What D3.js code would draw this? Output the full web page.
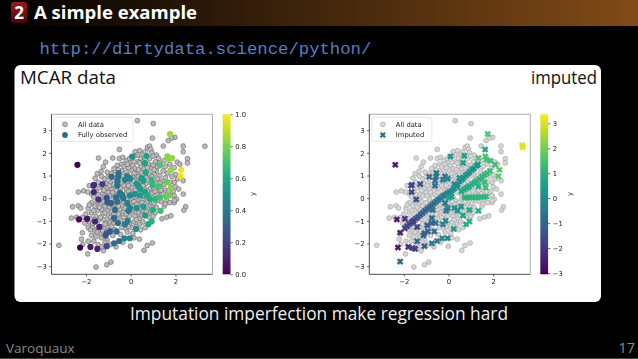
<!DOCTYPE html>
<html>
<head>
<meta charset="utf-8">
<script src="https://cdn.jsdelivr.net/npm/d3@7"></script>
<style>
  html, body { margin: 0; padding: 0; background: #000; overflow: hidden; }
  svg { display: block; }
</style>
</head>
<body>
<script>
// All points, grey in both panels [x, y]
var allPoints = [
  [0.3,3.42],[1.01,3.29],[0.97,2.65],[1.98,2.68],[1.83,2.65],[1.68,2.54],[3.32,2.29],[2.35,2.3],[2.35,2.05],[1.46,2.3],
  [-0.5,2.15],[2.54,1.74],[2.54,1.55],[2.08,1.59],[2.2,1.5],[-1.44,1.77],[-0.8,1.77],[-1.12,1.59],[-1.22,1.39],[-1.32,1.18],
  [-1.49,1.08],[-1.59,0.88],[2.35,0.77],[-2.34,0.27],[-2.1,0.32],[-1.92,0.27],[-1.74,0.18],[2.35,0.18],[-2.6,-0.38],[-2.34,-0.34],
  [-2.23,-0.44],[2.46,-0.38],[2.38,-0.53],[-2.65,-0.88],[-2.41,-0.84],[-3.21,-2.08],[-2.16,-1.53],[-2.2,-1.81],[-2.14,-2.04],[-1.92,-2.46],
  [-1.55,-3.04],[-1.07,-2.94],[-0.88,-2.82],[-1.22,-2.32],[-0.01,-2.12],[0.39,-1.81],[0.6,-2.3],[0.74,-2.09],[0.97,-1.98],[1.4,-0.91],
  [1.62,-0.84],[1.8,-0.78],
  [0.2,2.05],[0.4,2.1],[0.55,1.95],[0.75,2.25],[0.85,2.3],[0.9,2.15],[0.95,2.0],[0.65,2.05],[0.3,1.9],[1.15,1.9],[1.25,1.75],
  [-0.5,1.75],[-0.35,1.8],[0,1.6],[0.15,1.85],[0.45,1.75],[0.55,1.6],[0.85,1.75],[1.0,1.85],[1.1,1.6],[1.3,1.55],[1.5,1.65],
  [-0.2,1.65],[-0.4,1.5],[-0.6,1.45],[-0.05,1.75],[0.3,1.6],[0.8,1.5],[1.0,1.45],[1.2,1.4],[1.55,1.4],[1.75,1.5],[1.95,1.35],
  [-0.75,1.3],[-0.3,1.4],[-0.1,1.35],[0.1,1.45],[0.2,1.3],[0.45,1.4],[0.6,1.3],[0.9,1.3],[1.15,1.2],[1.45,1.2],[1.65,1.1],[2.0,1.05],
  [-1.05,1.15],[-0.85,1.1],[-0.4,1.2],[-0.2,1.15],[0.05,1.2],[0.3,1.1],[0.45,1.15],[0.85,1.05],[1.05,1.05],[1.3,1.0],[1.55,0.9],[1.85,0.95],[2.1,0.85],
  [-1.3,0.95],[-1.15,0.85],[-1.0,0.95],[-0.7,0.9],[-0.35,0.95],[0.1,0.95],[0.25,0.85],[0.7,0.9],[0.95,0.95],[1.2,0.85],[1.4,0.75],[1.75,0.7],[1.95,0.7],
  [-1.45,0.7],[-1.1,0.65],[-0.9,0.7],[-0.75,0.6],[-0.4,0.7],[-0.15,0.7],[0.05,0.65],[0.45,0.7],[0.7,0.65],[1.15,0.65],[1.35,0.55],[1.5,0.6],[2.0,0.5],[2.15,0.4],
  [-1.85,0.55],[-1.4,0.45],[-1.05,0.45],[-0.85,0.4],[-0.65,0.35],[-0.45,0.45],[-0.2,0.4],[0.05,0.45],[0.2,0.35],[0.6,0.45],[0.85,0.4],[1.05,0.4],[1.25,0.3],[1.55,0.35],[1.9,0.3],
  [-1.55,0.3],[-1.25,0.2],[-1.0,0.25],[-0.75,0.15],[-0.55,0.1],[-0.2,0.2],[0.1,0.2],[0.4,0.25],[0.6,0.1],[0.95,0.2],[1.2,0.15],[1.45,0.2],[1.95,0.1],[2.05,-0.05],
  [-1.65,0.05],[-1.3,-0.05],[-1.15,0.1],[-0.85,-0.05],[-0.5,-0.1],[-0.2,-0.05],[0.05,-0.05],[0.3,-0.1],[0.55,-0.1],[0.85,-0.2],[1.05,-0.25],[1.35,-0.15],[1.6,-0.1],[1.95,-0.2],[1.95,-0.1],
  [-1.75,-0.2],[-1.6,-0.35],[-1.35,-0.25],[-1.15,-0.35],[-0.95,-0.4],[-0.65,-0.3],[-0.4,-0.3],[-0.1,-0.35],[0.1,-0.3],[0.4,-0.25],[0.7,-0.4],[1.15,-0.4],[1.5,-0.35],[1.55,-0.25],
  [-1.9,-0.45],[-1.85,-0.3],[-1.5,-0.55],[-1.3,-0.5],[-1.05,-0.55],[-0.85,-0.6],[-0.5,-0.5],[-0.3,-0.6],[0.1,-0.6],[0.35,-0.65],[0.55,-0.55],[0.85,-0.6],[1.1,-0.65],
  [-2.0,-0.7],[-1.75,-0.65],[-1.55,-0.8],[-1.25,-0.7],[-1.0,-0.8],[-0.75,-0.7],[-0.5,-0.75],[-0.3,-0.85],[-0.05,-0.8],[0.2,-0.8],[0.4,-0.9],[0.85,-0.85],[1.0,-0.8],
  [-2.15,-0.85],[-1.85,-1.05],[-1.7,-1.15],[-1.45,-1.0],[-1.2,-0.95],[-0.95,-1.05],[-0.75,-1.1],[-0.45,-1.0],[-0.05,-1.1],[0.15,-1.05],[0.4,-1.15],[0.55,-1.05],
  [-2.05,-1.1],[-1.7,-1.3],[-1.6,-1.45],[-1.3,-1.25],[-1.05,-1.3],[-0.85,-1.25],[-0.4,-1.3],[-0.2,-1.35],[0.05,-1.3],[0.45,-1.4],[0.65,-1.3],
  [-1.9,-1.3],[-1.75,-1.65],[-1.55,-1.7],[-1.35,-1.55],[-1.3,-1.75],[-0.8,-1.65],[-0.45,-1.6],[-0.15,-1.5],[0.1,-1.55],[-1.05,-1.85],[-1.65,-1.9],[-1.45,-2.05],[-0.65,-2.15],
  [-1.9,-1.9],[-0.9,-2.05],[-1.3,-2.15],[-0.35,-1.95],[0.15,-1.75],[-1.05,-1.45],[-0.65,-0.95],[0.65,-0.75],[0.3,0.55],[-0.05,0.9],[0.5,0.9],[-0.55,0.75],
  // denser core
  [-0.95,0.55],[-0.8,0.25],[-0.6,0.6],[-0.3,0.55],[-0.1,0.55],[0.15,0.75],[0.35,0.95],[0.55,0.55],[0.75,0.3],[0.95,0.05],[1.1,0.3],[1.3,0.65],
  [-1.2,0.35],[-1.45,0.15],[-1.5,-0.15],[-1.2,-0.15],[-1.0,-0.2],[-0.7,-0.15],[-0.35,0.1],[-0.1,0.3],[0.2,0.05],[0.5,-0.2],[0.75,-0.15],[1.2,-0.1],
  [-1.65,-0.55],[-1.4,-0.4],[-1.15,-0.65],[-0.9,-0.85],[-0.55,-0.35],[-0.25,-0.45],[0.0,-0.2],[0.25,-0.25],[0.45,-0.45],[0.7,-0.6],[0.95,-0.4],
  [-1.8,-0.9],[-1.6,-0.95],[-1.35,-0.85],[-1.1,-1.1],[-0.8,-0.95],[-0.55,-0.7],[-0.2,-0.7],[0.05,-0.5],[0.25,-0.95],[0.5,-0.75],
  [-1.8,-1.4],[-1.45,-1.3],[-1.25,-1.45],[-1.15,-1.15],[-0.7,-1.4],[-0.3,-1.15],[-0.1,-1.25],[0.25,-1.25],[-1.5,-1.5],[-1.15,-1.95],
  [-0.7,1.05],[-0.55,1.25],[-0.15,1.0],[0.15,1.1],[0.35,1.25],[0.65,1.1],[0.75,1.35],[1.05,1.25],[0.15,1.6],[0.65,1.75],[-0.15,1.5],[0.4,1.55],
  [-0.25,-0.2],[-0.8,-0.3],[0.15,-0.15],[0.9,0.7],[0.7,0.1],[0.3,0.7],[-0.45,0.25],[-0.95,0.1],[-1.3,0.55],[1.7,0.3],[1.75,-0.2],[1.35,0.35]
];

// Left panel observed points [x, y, colour value]
var observedPoints = [
  [-2.38,1.47,0.0],[1.76,2.83,0.85],[0.07,1.83,0.5],[0.71,1.86,0.58],[1.64,1.84,0.82],[1.68,1.74,0.83],[1.85,1.77,0.83],[0.64,1.55,0.58],
  [1.31,1.45,0.72],[1.79,1.24,0.83],[2.26,1.25,0.97],[2.23,0.97,0.97],[0.68,1.14,0.6],[-0.54,1.11,0.38],[-0.86,0.94,0.33],[-0.55,0.96,0.38],
  [-0.15,0.96,0.42],[-1.64,0.59,0.12],[-1.66,0.55,0.12],[-1.26,0.62,0.18],[-0.6,0.77,0.38],[-0.6,0.55,0.38],[-0.25,0.81,0.42],[-0.03,0.86,0.45],
  [0.27,0.62,0.52],[0.34,0.55,0.53],[0.49,0.89,0.55],[0.57,0.77,0.57],[0.94,0.81,0.65],[0.98,0.59,0.66],[1.24,0.52,0.7],[1.61,0.71,0.77],
  [1.79,0.47,0.82],[0.42,0.41,0.55],[0.64,0.27,0.57],[-1.65,0.27,0.12],[-1.44,-0.06,0.15],[-1.07,0.01,0.25],[-1.04,-0.18,0.27],[-0.88,-0.22,0.3],
  [-0.48,0.22,0.38],[-0.4,0.15,0.4],[-0.65,0.03,0.35],[-0.33,0,0.4],[-0.03,0.12,0.47],[0.19,0.18,0.5],[0.42,0.12,0.55],[-0.6,-0.15,0.37],
  [-0.15,-0.22,0.43],[-0.03,-0.44,0.43],[-0.1,-0.56,0.42],[0.27,-0.44,0.5],[0.57,-0.37,0.55],[0.74,0.12,0.6],[0.86,-0.04,0.62],[1.09,-0.04,0.65],
  [1.31,0.03,0.7],[1.58,0.07,0.75],[1.73,0.12,0.78],[0.98,-0.52,0.62],[1.34,-0.56,0.68],[0.65,-0.77,0.57],[-0.7,-0.52,0.35],[-0.74,-0.88,0.33],
  [-0.57,-1.1,0.35],[-0.25,-1.15,0.4],[-0.13,-1,0.42],[-1.59,-1.03,0.1],[-1.4,-1.27,0.1],[-2.31,-0.94,0.02],[-1.95,-0.91,0.05],[-0.92,-1.47,0.27],
  [-1.07,-1.55,0.27],[-1.12,-1.65,0.27],[-0.63,-1.47,0.33],[0.24,-1.36,0.5],[0.79,-1.15,0.6],[0.94,-1.03,0.63],[-0.74,-1.99,0.33],[-0.51,-1.89,0.33],
  [-0.28,-1.77,0.43],[-0.04,-1.77,0.45],[-1.07,-2.12,0.22],[-1.49,-2.24,0.1],[-1.8,-2.15,0.07],[-2.26,-2.18,0.0]
];

// Right panel imputed points [x, y, colour value]
var imputedPoints = [
  [-2.38,1.47,-2.5],[3.3,2.33,3.1],[3.32,2.25,3.1],[1.76,2.83,1.5],[1.64,2.15,0.7],[1.34,1.77,1.6],[1.65,1.84,1.5],[1.7,1.7,1.5],[1.88,1.65,1.4],
  [2.08,1.47,1.4],[2.28,1.25,1.7],[2.23,0.97,1.7],[0.09,1.84,0.3],[0.71,1.87,0.5],[0.65,1.55,0.5],
  // upper diagonal band
  [0.5,0.74,0.1],[0.6,0.82,0.15],[0.68,0.9,0.2],[0.77,1.0,0.2],[0.86,1.08,0.25],[0.95,1.16,0.3],[1.05,1.26,0.3],[1.14,1.32,0.3],[1.25,1.42,0.3],[1.32,1.48,0.3],
  // middle diagonal band
  [0.58,0.3,0.7],[0.7,0.38,0.75],[0.82,0.46,0.8],[0.92,0.52,0.85],[1.04,0.6,0.9],[1.15,0.68,0.95],[1.26,0.76,1.0],[1.38,0.84,1.05],[1.5,0.94,1.1],[1.62,1.02,1.2],[1.74,1.1,1.25],[1.85,1.2,1.3],
  // horizontal band
  [0.73,0.03,1.0],[0.85,0.02,1.05],[0.96,0.04,1.05],[1.08,0.02,1.1],[1.2,0.05,1.1],[1.32,0.03,1.15],[1.45,0.06,1.15],[1.58,0.05,1.2],[1.7,0.07,1.2],
  [1.62,0.71,1.3],[1.67,0.47,1.3],[1.33,0.52,1.0],[0.94,-0.52,0.75],[1.34,-0.56,1.0],[0.65,-0.77,0.7],
  // lower diagonal band
  [-1.95,-1.33,-1.9],[-1.85,-1.24,-1.85],[-1.75,-1.15,-1.75],[-1.65,-1.07,-1.65],[-1.55,-0.99,-1.55],[-1.45,-0.9,-1.45],[-1.35,-0.82,-1.35],[-1.25,-0.73,-1.25],[-1.15,-0.65,-1.15],
  [-1.05,-0.56,-1.05],[-0.95,-0.48,-0.95],[-0.85,-0.4,-0.9],[-0.75,-0.31,-0.85],[-0.65,-0.23,-0.75],[-0.55,-0.15,-0.7],[-0.45,-0.07,-0.6],[-0.35,0.0,-0.5],[-0.25,0.08,-0.45],[-0.15,0.14,-0.35],[-0.05,0.2,-0.3],
  [0.05,0.26,-0.2],[0.15,0.34,-0.1],[0.25,0.42,-0.05],[0.35,0.5,0.0],[0.42,0.6,0.05],[0.02,0.02,0.55],[0.14,0.07,0.5],
  [-0.54,1.11,-0.6],[-0.86,0.94,-0.8],[-0.55,0.96,-0.6],[-0.15,0.96,-0.4],[-1.64,0.59,-1.6],[-1.66,0.55,-1.6],[-1.26,0.62,-1.4],[-0.6,0.77,-0.7],[-0.6,0.55,-0.7],
  [-0.25,0.81,-0.4],[-0.03,0.86,-0.2],[0.27,0.62,0.0],[0.34,0.55,0.0],[0.49,0.89,0.1],[-1.65,0.27,-1.7],[-1.44,-0.06,-1.5],
  [-0.15,-0.22,-0.5],[-0.03,-0.44,-0.3],[-0.1,-0.56,-0.4],[0.27,-0.44,0.1],[0.57,-0.37,0.3],[0.4,-0.55,0.2],[-0.7,-0.52,-0.7],[-0.74,-0.88,-0.9],
  [-0.57,-1.1,-0.5],[-0.25,-1.15,-0.2],[-0.13,-1,-0.1],[-1.59,-1.03,-1.8],[-1.4,-1.27,-1.8],[-2.31,-0.94,-2.5],[-1.95,-0.91,-2.2],[-0.92,-1.47,-1.1],
  [-1.07,-1.55,-1.1],[-1.12,-1.65,-1.1],[-0.63,-1.47,-0.9],[0.24,-1.36,0.4],[0.79,-1.15,0.9],[0.94,-1.03,1.0],[-0.74,-1.99,-0.5],[-0.51,-1.89,-0.5],
  [-0.28,-1.77,-0.2],[-0.04,-1.77,-0.1],[-1.07,-2.12,-1.2],[-1.49,-2.24,-2.0],[-1.8,-2.15,-2.3],[-2.26,-2.18,-2.6],[-2.16,-1.53,-2.4],[-2.16,-2.8,-0.9],
  [-1.6,-2.2,-1.9],[-0.95,-1.2,-1.3],[-1.4,-1.9,-0.9],[-0.75,-1.1,-1.0]
];

var xTicks = [-2, 0, 2];
var yTicks = [-3, -2, -1, 0, 1, 2, 3];
var barTicksLeft = [0, 0.2, 0.4, 0.6, 0.8, 1];
var barTicksRight = [-3, -2, -1, 0, 1, 2, 3];

var width = 638, height = 359;
var svg = d3.select("body").append("svg").attr("width", width).attr("height", height);
var defs = svg.append("defs");

// Header band
var headGrad = defs.append("linearGradient").attr("id", "headGrad");
headGrad.append("stop").attr("offset", "0%").attr("stop-color", "#000");
headGrad.append("stop").attr("offset", "100%").attr("stop-color", "#824b18");
svg.append("rect").attr("width", width).attr("height", 26).attr("fill", "url(#headGrad)");

var sectGrad = defs.append("linearGradient").attr("id", "sectGrad").attr("x2", 0).attr("y2", 1);
sectGrad.append("stop").attr("offset", "0%").attr("stop-color", "#a01818");
sectGrad.append("stop").attr("offset", "100%").attr("stop-color", "#4a0606");
svg.append("rect").attr("x", 11).attr("y", 2).attr("width", 16).attr("height", 21).attr("rx", 3).attr("fill", "url(#sectGrad)");
svg.append("text").attr("x", 19).attr("y", 19).attr("text-anchor", "middle")
  .attr("font-family", "Open Sans").attr("font-weight", 700).attr("font-size", 17).attr("fill", "#fff").text("2");
svg.append("text").attr("x", 34).attr("y", 19)
  .attr("font-family", "Open Sans").attr("font-weight", 700).attr("font-size", 18)
  .attr("textLength", 163).attr("lengthAdjust", "spacingAndGlyphs").attr("fill", "#fff").text("A simple example");

svg.append("text").attr("x", 39.5).attr("y", 54)
  .attr("font-family", "Liberation Mono").attr("font-size", 17.3).attr("fill", "#5a7cc0").text("http://dirtydata.science/python/");

// White card
svg.append("rect").attr("x", 14.5).attr("y", 65).attr("width", 586.5).attr("height", 237).attr("rx", 6).attr("fill", "#fff");

svg.append("text").attr("x", 20).attr("y", 84).attr("font-family", "Open Sans").attr("font-size", 18)
  .attr("textLength", 96).attr("lengthAdjust", "spacingAndGlyphs").attr("fill", "#111").text("MCAR data");
svg.append("text").attr("x", 531).attr("y", 84).attr("font-family", "Open Sans").attr("font-size", 18)
  .attr("textLength", 66).attr("lengthAdjust", "spacingAndGlyphs").attr("fill", "#111").text("imputed");
svg.append("text").attr("x", 130).attr("y", 320).attr("font-family", "Open Sans").attr("font-size", 18)
  .attr("textLength", 378).attr("lengthAdjust", "spacingAndGlyphs").attr("fill", "#eee").text("Imputation imperfection make regression hard");
svg.append("text").attr("x", 6).attr("y", 353).attr("font-family", "Open Sans").attr("font-size", 13.5).attr("fill", "#8a8a8a").text("Varoquaux");
svg.append("text").attr("x", 635).attr("y", 353).attr("text-anchor", "end").attr("font-family", "Open Sans").attr("font-size", 14.5).attr("fill", "#8a8a8a").text("17");
svg.append("line").attr("x1", 0).attr("x2", width).attr("y1", 358.5).attr("y2", 358.5).attr("stroke", "#444");

// Viridis colour bar gradient
var barGrad = defs.append("linearGradient").attr("id", "barGrad").attr("x1", 0).attr("y1", 1).attr("x2", 0).attr("y2", 0);
d3.range(0, 1.001, 0.1).forEach(function (t) {
  barGrad.append("stop").attr("offset", t).attr("stop-color", d3.interpolateViridis(t));
});

var soft = defs.append("filter").attr("id", "soft");
soft.append("feGaussianBlur").attr("stdDeviation", 0.45);

function styleAxis(g) {
  g.selectAll("text").attr("font-family", "DejaVu Sans").attr("font-size", 6.8).attr("fill", "#222");
  g.selectAll("line").attr("stroke", "#222").attr("stroke-width", 0.7);
  g.select(".domain").remove();
}

function drawPanel(opt) {
  var g = svg.append("g").attr("filter", "url(#soft)");
  var x = d3.scaleLinear().domain([-3.54, 3.66]).range([opt.left, opt.left + 161]);
  var y = d3.scaleLinear().domain([-3.36, 3.7]).range([274.3, 114.3]);
  var color = d3.scaleSequential(d3.interpolateViridis).domain(opt.colorDomain);

  g.append("g").selectAll("circle").data(allPoints).enter().append("circle")
    .attr("cx", function (d) { return x(d[0]); })
    .attr("cy", function (d) { return y(d[1]); })
    .attr("r", 2.4)
    .attr("fill", opt.greyFill)
    .attr("stroke", opt.greyStroke)
    .attr("stroke-width", 0.7);

  if (opt.cross) {
    var cross = d3.symbol().type(d3.symbolCross).size(23);
    g.append("g").selectAll("path").data(opt.points).enter().append("path")
      .attr("d", cross)
      .attr("transform", function (d) { return "translate(" + x(d[0]) + "," + y(d[1]) + ") rotate(45)"; })
      .attr("fill", function (d) { return color(d[2]); })
      .attr("stroke", function (d) { return color(d[2]); })
      .attr("stroke-width", 0.5);
  } else {
    g.append("g").selectAll("circle").data(opt.points).enter().append("circle")
      .attr("cx", function (d) { return x(d[0]); })
      .attr("cy", function (d) { return y(d[1]); })
      .attr("r", 3.1)
      .attr("fill", function (d) { return color(d[2]); });
  }

  // Frame, darker on the axis sides
  g.append("path").attr("d", d3.line()([[x.range()[0], 114.3], [x.range()[1], 114.3], [x.range()[1], 274.3]]))
    .attr("fill", "none").attr("stroke", "#999").attr("stroke-width", 0.8);
  g.append("path").attr("d", d3.line()([[x.range()[0], 114.3], [x.range()[0], 274.3], [x.range()[1], 274.3]]))
    .attr("fill", "none").attr("stroke", "#222").attr("stroke-width", 0.8);

  g.append("g").attr("transform", "translate(0,274.3)")
    .call(d3.axisBottom(x).tickValues(xTicks).tickFormat(d3.format("d")).tickSize(2.2).tickPadding(2.5)).call(styleAxis);
  g.append("g").attr("transform", "translate(" + opt.left + ",0)")
    .call(d3.axisLeft(y).tickValues(yTicks).tickFormat(d3.format("d")).tickSize(2.2).tickPadding(2.5)).call(styleAxis);

  // Legend
  var lx = opt.left + 2.5;
  g.append("rect").attr("x", lx).attr("y", 117.5).attr("width", opt.legendWidth).attr("height", 24).attr("rx", 1.5)
    .attr("fill", "#fff").attr("fill-opacity", 0.85).attr("stroke", "#d8d8d8").attr("stroke-width", 0.6);
  g.append("circle").attr("cx", lx + 11).attr("cy", 124.3).attr("r", 2.4).attr("fill", opt.greyFill).attr("stroke", opt.greyStroke).attr("stroke-width", 0.7);
  if (opt.cross) {
    g.append("path").attr("d", d3.symbol().type(d3.symbolCross).size(23))
      .attr("transform", "translate(" + (lx + 11) + ",135) rotate(45)").attr("fill", d3.interpolateViridis(0.35));
  } else {
    g.append("circle").attr("cx", lx + 11).attr("cy", 135).attr("r", 2.9).attr("fill", d3.interpolateViridis(0.35));
  }
  opt.legendLabels.forEach(function (label, i) {
    g.append("text").attr("x", lx + 24).attr("y", 126.8 + i * 10.6)
      .attr("font-family", "DejaVu Sans").attr("font-size", 6.8).attr("fill", "#222").text(label);
  });

  // Colour bar
  var barY = d3.scaleLinear().domain(opt.colorDomain).range([274.3, 114.3]);
  g.append("rect").attr("x", opt.barLeft).attr("y", 114.3).attr("width", 7.8).attr("height", 160).attr("fill", "url(#barGrad)");
  g.append("g").attr("transform", "translate(" + (opt.barLeft + 7.8) + ",0)")
    .call(d3.axisRight(barY).tickValues(opt.barTicks).tickFormat(opt.barFormat).tickSize(2.2).tickPadding(2.5)).call(styleAxis);
  g.append("text").attr("transform", "translate(" + opt.yLabelX + ",194) rotate(-90)").attr("text-anchor", "middle")
    .attr("font-family", "DejaVu Sans").attr("font-size", 6.8).attr("fill", "#222").text("y");
}

drawPanel({
  left: 51.5, barLeft: 222.7, yLabelX: 255,
  points: observedPoints, cross: false, colorDomain: [0, 1],
  barTicks: barTicksLeft, barFormat: d3.format(".1f"),
  greyFill: "#bcbcbc", greyStroke: "#707070",
  legendWidth: 79, legendLabels: ["All data", "Fully observed"]
});
drawPanel({
  left: 369.3, barLeft: 540.3, yLabelX: 572,
  points: imputedPoints, cross: true, colorDomain: [-3.05, 3.36],
  barTicks: barTicksRight, barFormat: d3.format("d"),
  greyFill: "#d6d6d6", greyStroke: "#a8a8a8",
  legendWidth: 60, legendLabels: ["All data", "Imputed"]
});
</script>
</body>
</html>
